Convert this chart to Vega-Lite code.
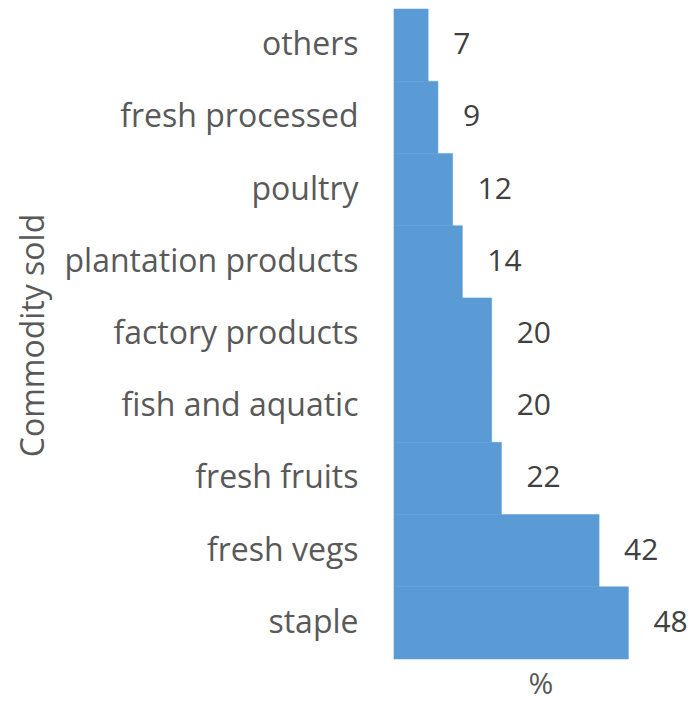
{
  "$schema": "https://vega.github.io/schema/vega-lite/v6.json",
  "width": 293,
  "height": 650,
  "autosize": "none",
  "padding": {"left": 394, "top": 9, "right": 7, "bottom": 44},
  "background": "white",
  "config": {
    "font": "Open Sans",
    "view": {"stroke": null}
  },
  "data": {
    "values": [
      {"commodity": "others", "pct": 7},
      {"commodity": "fresh processed", "pct": 9},
      {"commodity": "poultry", "pct": 12},
      {"commodity": "plantation products", "pct": 14},
      {"commodity": "factory products", "pct": 20},
      {"commodity": "fish and aquatic\u00a0", "pct": 20},
      {"commodity": "fresh fruits", "pct": 22},
      {"commodity": "fresh vegs", "pct": 42},
      {"commodity": "staple", "pct": 48}
    ]
  },
  "encoding": {
    "y": {
      "field": "commodity",
      "type": "nominal",
      "sort": null,
      "scale": {"paddingInner": 0, "paddingOuter": 0},
      "axis": {
        "title": "Commodity sold",
        "titleFontSize": 32,
        "titleFontWeight": "normal",
        "titleColor": "#595959",
        "titleAngle": -90,
        "titleAlign": "center",
        "titleBaseline": "alphabetic",
        "titleX": -351,
        "titleY": 326,
        "labelFontSize": 32,
        "labelLimit": 0,
        "labelColor": "#595959",
        "labelPadding": 36,
        "ticks": false,
        "domainColor": "#d9d9d9",
        "domainWidth": 1.5
      }
    },
    "x": {
      "field": "pct",
      "type": "quantitative",
      "scale": {"domain": [0, 60], "nice": false},
      "axis": {
        "title": "%",
        "titleFontSize": 30,
        "titleFontWeight": "normal",
        "titleColor": "#595959",
        "titlePadding": 10,
        "labels": false,
        "ticks": false,
        "domain": false,
        "grid": false
      }
    }
  },
  "layer": [
    {"mark": {"type": "bar", "color": "#5B9BD5", "stroke": "#5B9BD5", "strokeWidth": 0.5}},
    {
      "mark": {"type": "text", "align": "left", "dx": 25, "fontSize": 30, "color": "#404040"},
      "encoding": {"text": {"field": "pct", "type": "quantitative"}}
    }
  ]
}
